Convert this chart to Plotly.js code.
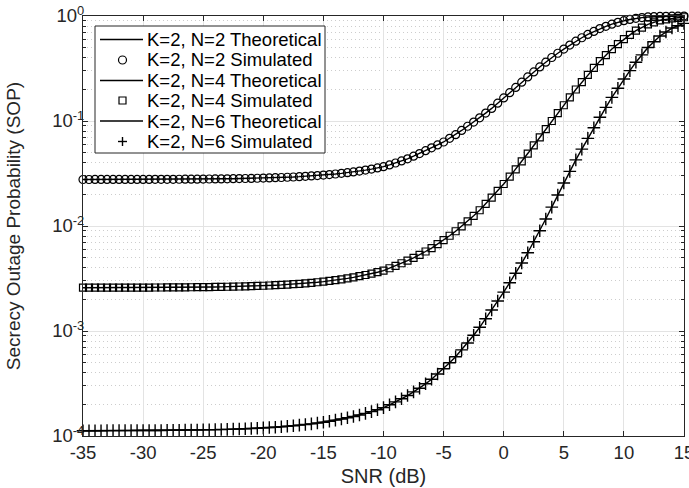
<!DOCTYPE html>
<html>
<head>
<meta charset="utf-8">
<script src="https://cdn.plot.ly/plotly-3.0.1.min.js"></script>
<style>
html,body{margin:0;padding:0;background:#fff;}
#chart{width:689px;height:488px;}
</style>
</head>
<body>
<div id="chart"></div>
<script>
// SNR (dB) sample points
const snr = [-35,-34.5,-34,-33.5,-33,-32.5,-32,-31.5,-31,-30.5,-30,-29.5,-29,-28.5,-28,-27.5,-27,-26.5,-26,-25.5,
  -25,-24.5,-24,-23.5,-23,-22.5,-22,-21.5,-21,-20.5,-20,-19.5,-19,-18.5,-18,-17.5,-17,-16.5,-16,-15.5,
  -15,-14.5,-14,-13.5,-13,-12.5,-12,-11.5,-11,-10.5,-10,-9.5,-9,-8.5,-8,-7.5,-7,-6.5,-6,-5.5,
  -5,-4.5,-4,-3.5,-3,-2.5,-2,-1.5,-1,-0.5,0,0.5,1,1.5,2,2.5,3,3.5,4,4.5,
  5,5.5,6,6.5,7,7.5,8,8.5,9,9.5,10,10.5,11,11.5,12,12.5,13,13.5,14,14.5,15];

// K=2, N=2
const sopN2 = [0.02773,0.02773,0.02774,0.02774,0.02775,0.02775,0.02776,0.02776,0.02777,0.02778,
  0.02779,0.02780,0.02781,0.02783,0.02784,0.02786,0.02788,0.02790,0.02793,0.02795,
  0.02798,0.02802,0.02806,0.02810,0.02815,0.02821,0.02827,0.02834,0.02841,0.02850,
  0.02860,0.02871,0.02883,0.02897,0.02912,0.02930,0.02950,0.02972,0.02996,0.03024,
  0.03054,0.03090,0.03128,0.03172,0.03221,0.03276,0.03338,0.03407,0.03485,0.03572,
  0.03673,0.03819,0.03981,0.04169,0.04365,0.04624,0.04898,0.05212,0.05559,0.05916,
  0.06310,0.06839,0.07413,0.08128,0.08913,0.09772,0.1072,0.1189,0.1318,0.1479,
  0.1660,0.1862,0.2089,0.2344,0.2630,0.2931,0.3273,0.3631,0.4027,0.4416,
  0.4842,0.5284,0.5754,0.6209,0.6683,0.7129,0.7586,0.7980,0.8356,0.8710,
  0.9016,0.9268,0.9506,0.9661,0.9795,0.9863,0.9908,0.9931,0.9954,0.9966,0.9977];

// K=2, N=4
const sopN4 = [0.002584,0.002584,0.002585,0.002585,0.002586,0.002587,0.002587,0.002588,0.002589,0.002591,
  0.002592,0.002593,0.002595,0.002597,0.002599,0.002601,0.002604,0.002606,0.002610,0.002613,
  0.002617,0.002622,0.002627,0.002633,0.002639,0.002646,0.002654,0.002664,0.002674,0.002685,
  0.002698,0.002712,0.002729,0.002747,0.002767,0.002790,0.002816,0.002845,0.002876,0.002913,
  0.002953,0.002999,0.003050,0.003107,0.003171,0.003243,0.003325,0.003416,0.003517,0.003631,
  0.003758,0.003958,0.004169,0.004416,0.004677,0.004977,0.005309,0.005715,0.006166,0.006714,
  0.007328,0.008072,0.008913,0.009931,0.01109,0.01250,0.01413,0.01622,0.01862,0.02163,
  0.02512,0.02951,0.03467,0.04121,0.04898,0.05848,0.06998,0.08356,0.1000,0.1189,
  0.1413,0.1679,0.1995,0.2344,0.2754,0.3199,0.3715,0.4236,0.4842,0.5395,
  0.6026,0.6607,0.7244,0.7762,0.8318,0.8690,0.9078,0.9290,0.9506,0.9616,0.9727];

// K=2, N=6
const sopN6 = [1.122e-4,1.123e-4,1.123e-4,1.123e-4,1.124e-4,1.124e-4,1.125e-4,1.125e-4,1.126e-4,1.127e-4,
  1.127e-4,1.128e-4,1.129e-4,1.130e-4,1.132e-4,1.133e-4,1.135e-4,1.137e-4,1.139e-4,1.141e-4,
  1.143e-4,1.146e-4,1.149e-4,1.153e-4,1.157e-4,1.162e-4,1.167e-4,1.172e-4,1.179e-4,1.186e-4,
  1.194e-4,1.203e-4,1.213e-4,1.224e-4,1.237e-4,1.252e-4,1.268e-4,1.286e-4,1.306e-4,1.329e-4,
  1.354e-4,1.383e-4,1.415e-4,1.451e-4,1.491e-4,1.536e-4,1.587e-4,1.644e-4,1.708e-4,1.779e-4,
  1.862e-4,1.983e-4,2.113e-4,2.265e-4,2.427e-4,2.630e-4,2.851e-4,3.141e-4,3.467e-4,3.890e-4,
  4.365e-4,4.977e-4,5.689e-4,6.607e-4,7.674e-4,9.120e-4,1.084e-3,1.310e-3,1.585e-3,1.928e-3,
  2.344e-3,2.884e-3,3.548e-3,4.436e-3,5.559e-3,7.079e-3,9.016e-3,1.167e-2,1.514e-2,1.972e-2,
  2.570e-2,3.311e-2,4.266e-2,5.395e-2,6.839e-2,8.610e-2,0.1084,0.1349,0.1679,0.2051,
  0.2512,0.3020,0.3631,0.4266,0.5012,0.5689,0.6457,0.7031,0.7674,0.8072,0.8511];

const seriesNames = ["K=2, N=2","K=2, N=4","K=2, N=6"];
const legendLabels = ["K=2, N=2 Theoretical","K=2, N=2 Simulated","K=2, N=4 Theoretical",
                      "K=2, N=4 Simulated","K=2, N=6 Theoretical","K=2, N=6 Simulated"];
const xTickVals = [-35,-30,-25,-20,-15,-10,-5,0,5,10,15];
const xTickText = ["-35","-30","-25","-20","-15","-10","-5","0","5","10","15"];
const yTickVals = [1e-4,1e-3,1e-2,1e-1,1];
const yTickText = ["10<sup>-4</sup>","10<sup>-3</sup>","10<sup>-2</sup>","10<sup>-1</sup>","10<sup>0</sup>"];

const minorVals = [];
[1e-4,1e-3,1e-2,1e-1].forEach(d => { for (let m = 2; m <= 9; m++) minorVals.push(m*d); });

const ink = '#262626';
const W = 689, H = 488;
const M = {l: 83, r: 5, t: 16, b: 52};
const PW = W - M.l - M.r, PH = H - M.t - M.b;
const px2x = p => (p - M.l) / PW;
const px2y = p => (H - M.b - p) / PH;

const seriesData = [sopN2, sopN4, sopN6];
const symbols = ['circle-open','square-open','cross-thin-open'];
const msize = [8, 7, 9];
const mline = [1.2, 1.2, 1.4];
const traces = [];
seriesData.forEach((ys, i) => {
  traces.push({
    x: snr, y: ys, type: 'scatter', mode: 'lines',
    name: seriesNames[i] + ' Theoretical', showlegend: false,
    line: {color: '#000', width: 1.4}
  });
  traces.push({
    x: snr, y: ys, type: 'scatter', mode: 'markers',
    name: seriesNames[i] + ' Simulated', cliponaxis: false, showlegend: false,
    marker: {symbol: symbols[i], size: msize[i], color: '#000', line: {color: '#000', width: mline[i]}}
  });
});

// legend (drawn as layout items, MATLAB style compact rows)
const font = 'Liberation Sans, Arial, Helvetica, sans-serif';
const legBox = {x0: 95, x1: 325, y0: 26, y1: 153};
const rowY = [39.5, 60, 80.5, 100.5, 121, 141.5];
const shapes = [{
  type: 'rect', xref: 'paper', yref: 'paper', layer: 'above',
  x0: px2x(legBox.x0), x1: px2x(legBox.x1), y0: px2y(legBox.y1), y1: px2y(legBox.y0),
  fillcolor: '#fff', line: {color: ink, width: 1}
}];
const annotations = [];
rowY.forEach((ry, i) => {
  annotations.push({
    xref: 'paper', yref: 'paper', x: px2x(145), y: px2y(ry), xanchor: 'left', yanchor: 'middle',
    text: legendLabels[i], showarrow: false, font: {family: font, size: 18.5, color: '#000'}
  });
  const s = Math.floor(i / 2);
  if (i % 2 === 0) {
    shapes.push({type: 'line', xref: 'paper', yref: 'paper', layer: 'above',
      x0: px2x(100), x1: px2x(143), y0: px2y(ry), y1: px2y(ry), line: {color: '#000', width: 1.4}});
  } else {
    const base = {xref: 'paper', yref: 'paper', layer: 'above', xsizemode: 'pixel', ysizemode: 'pixel',
      xanchor: px2x(122.5), yanchor: px2y(ry), line: {color: '#000', width: mline[s]}};
    if (s === 0) shapes.push(Object.assign({type: 'circle', x0: -4, x1: 4, y0: -4, y1: 4}, base));
    else if (s === 1) shapes.push(Object.assign({type: 'rect', x0: -3.5, x1: 3.5, y0: -3.5, y1: 3.5}, base));
    else {
      shapes.push(Object.assign({type: 'line', x0: -4.5, x1: 4.5, y0: 0, y1: 0}, base));
      shapes.push(Object.assign({type: 'line', x0: 0, x1: 0, y0: -4.5, y1: 4.5}, base));
    }
  }
});

const layout = {
  width: W, height: H,
  margin: M,
  paper_bgcolor: '#fff', plot_bgcolor: '#fff',
  font: {family: font, size: 18, color: ink},
  showlegend: false,
  shapes: shapes, annotations: annotations,
  xaxis: {
    range: [-35, 15], tickmode: 'array', tickvals: xTickVals, ticktext: xTickText,
    ticks: 'inside', ticklen: 5, tickcolor: ink, tickwidth: 1, ticklabeloverflow: 'allow',
    showline: true, linecolor: ink, linewidth: 1, mirror: 'allticks',
    showgrid: true, gridcolor: '#e3e3e3', gridwidth: 1, zeroline: false,
    tickfont: {family: font, size: 18.5, color: ink}, automargin: false,
    title: {text: 'SNR (dB)', font: {family: font, size: 20, color: ink}, standoff: 6}
  },
  yaxis: {
    type: 'log', range: [-4, 0], tickmode: 'array', tickvals: yTickVals, ticktext: yTickText,
    ticks: 'inside', ticklen: 5, tickcolor: ink, tickwidth: 1, ticklabelstandoff: -6,
    showline: true, linecolor: ink, linewidth: 1, mirror: 'allticks',
    showgrid: true, gridcolor: '#e3e3e3', gridwidth: 1, zeroline: false,
    tickfont: {family: font, size: 18.5, color: ink}, automargin: false,
    minor: {tickmode: 'array', tickvals: minorVals, ticks: 'inside', ticklen: 3, tickcolor: ink,
            showgrid: true, gridcolor: '#cdcdcd', griddash: '1px,3px', gridwidth: 1},
    title: {text: 'Secrecy Outage Probability (SOP)', font: {family: font, size: 19, color: ink}, standoff: 26}
  }
};

Plotly.newPlot('chart', traces, layout, {displayModeBar: false, staticPlot: true});
</script>
</body>
</html>
